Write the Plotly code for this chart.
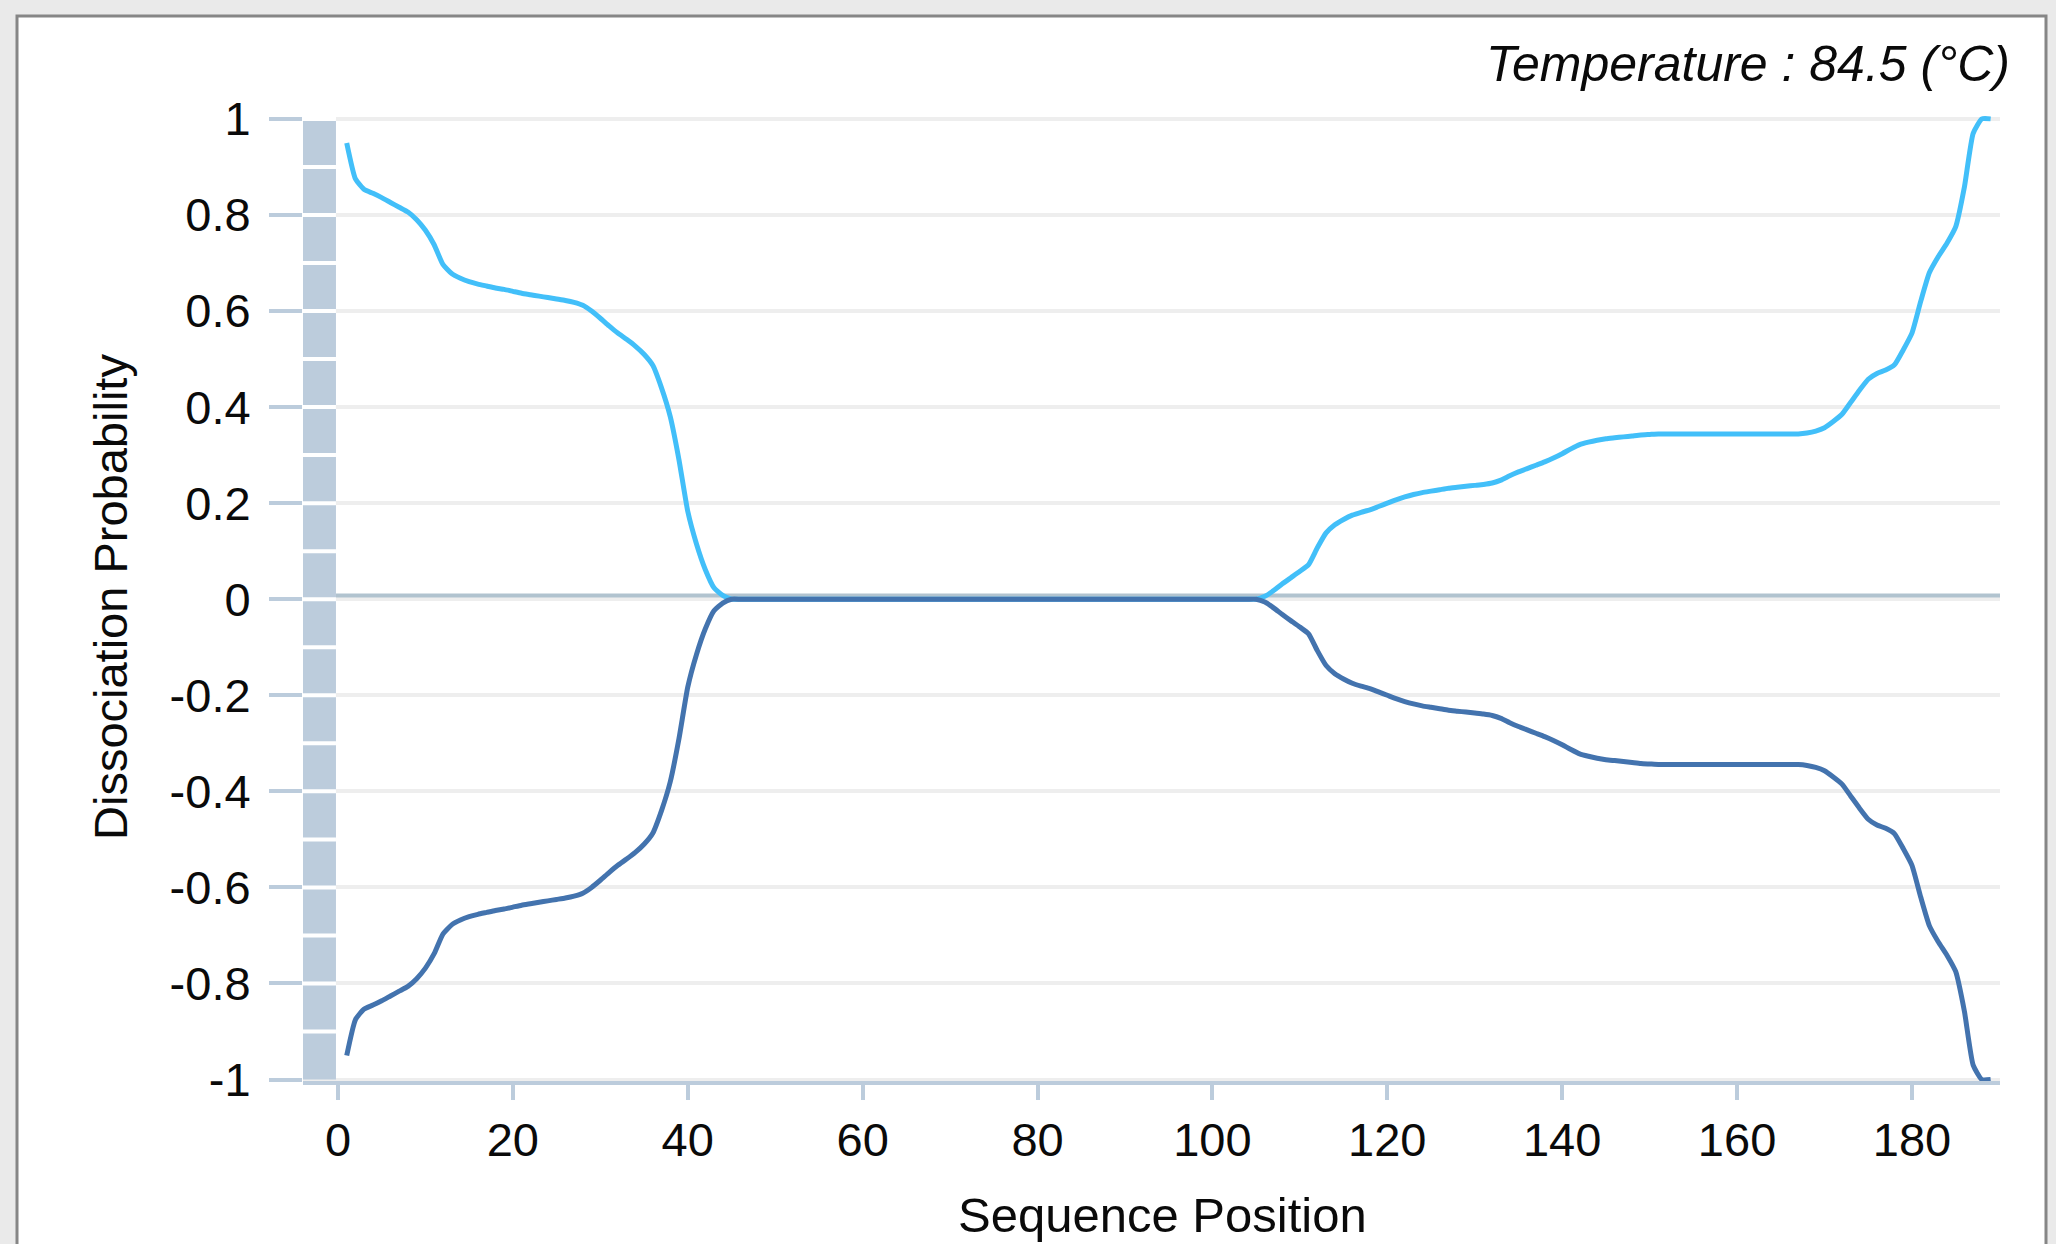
import plotly.graph_objects as go

# ---------------- data ----------------
positions = list(range(1, 190))

strand_top = [
    0.950, 0.875, 0.853, 0.845, 0.836, 0.826, 0.816, 0.806, 0.790, 0.768,
    0.738, 0.697, 0.678, 0.668, 0.661, 0.656, 0.652, 0.648, 0.645, 0.641,
    0.637, 0.634, 0.631, 0.628, 0.625, 0.622, 0.618, 0.612, 0.600, 0.585,
    0.569, 0.554, 0.541, 0.527, 0.510, 0.487, 0.440, 0.380, 0.290, 0.183,
    0.115, 0.062, 0.024, 0.008,
    0.0, 0.0, 0.0, 0.0, 0.0, 0.0, 0.0, 0.0, 0.0, 0.0,
    0.0, 0.0, 0.0, 0.0, 0.0, 0.0, 0.0, 0.0, 0.0, 0.0,
    0.0, 0.0, 0.0, 0.0, 0.0, 0.0, 0.0, 0.0, 0.0, 0.0,
    0.0, 0.0, 0.0, 0.0, 0.0, 0.0, 0.0, 0.0, 0.0, 0.0,
    0.0, 0.0, 0.0, 0.0, 0.0, 0.0, 0.0, 0.0, 0.0, 0.0,
    0.0, 0.0, 0.0, 0.0, 0.0, 0.0, 0.0, 0.0, 0.0, 0.0,
    0.0,
    0.006, 0.018, 0.032, 0.045, 0.058, 0.072, 0.107, 0.138, 0.155, 0.166,
    0.175, 0.181, 0.186, 0.193, 0.200, 0.207, 0.213, 0.218, 0.222, 0.225,
    0.228, 0.231, 0.233, 0.235, 0.237, 0.239, 0.242, 0.248, 0.257, 0.265,
    0.272, 0.279, 0.286, 0.294, 0.303, 0.313, 0.322, 0.327, 0.331, 0.334,
    0.336, 0.338, 0.340, 0.342, 0.343,
    0.344, 0.344, 0.344, 0.344, 0.344, 0.344, 0.344, 0.344, 0.344, 0.344,
    0.344, 0.344, 0.344, 0.344, 0.344, 0.344, 0.344,
    0.346, 0.350, 0.357, 0.370, 0.385, 0.410, 0.435, 0.458, 0.470, 0.477,
    0.488, 0.519, 0.554, 0.620, 0.680, 0.713, 0.741, 0.775, 0.858, 0.970,
    1.000, 1.000,
]

strand_bottom = [
    -0.950, -0.875, -0.853, -0.845, -0.836, -0.826, -0.816, -0.806, -0.790, -0.768,
    -0.738, -0.697, -0.678, -0.668, -0.661, -0.656, -0.652, -0.648, -0.645, -0.641,
    -0.637, -0.634, -0.631, -0.628, -0.625, -0.622, -0.618, -0.612, -0.600, -0.585,
    -0.569, -0.554, -0.541, -0.527, -0.510, -0.487, -0.440, -0.380, -0.290, -0.183,
    -0.115, -0.062, -0.024, -0.008,
    0.0, 0.0, 0.0, 0.0, 0.0, 0.0, 0.0, 0.0, 0.0, 0.0,
    0.0, 0.0, 0.0, 0.0, 0.0, 0.0, 0.0, 0.0, 0.0, 0.0,
    0.0, 0.0, 0.0, 0.0, 0.0, 0.0, 0.0, 0.0, 0.0, 0.0,
    0.0, 0.0, 0.0, 0.0, 0.0, 0.0, 0.0, 0.0, 0.0, 0.0,
    0.0, 0.0, 0.0, 0.0, 0.0, 0.0, 0.0, 0.0, 0.0, 0.0,
    0.0, 0.0, 0.0, 0.0, 0.0, 0.0, 0.0, 0.0, 0.0, 0.0,
    0.0,
    -0.006, -0.018, -0.032, -0.045, -0.058, -0.072, -0.107, -0.138, -0.155, -0.166,
    -0.175, -0.181, -0.186, -0.193, -0.200, -0.207, -0.213, -0.218, -0.222, -0.225,
    -0.228, -0.231, -0.233, -0.235, -0.237, -0.239, -0.242, -0.248, -0.257, -0.265,
    -0.272, -0.279, -0.286, -0.294, -0.303, -0.313, -0.322, -0.327, -0.331, -0.334,
    -0.336, -0.338, -0.340, -0.342, -0.343,
    -0.344, -0.344, -0.344, -0.344, -0.344, -0.344, -0.344, -0.344, -0.344, -0.344,
    -0.344, -0.344, -0.344, -0.344, -0.344, -0.344, -0.344,
    -0.346, -0.350, -0.357, -0.370, -0.385, -0.410, -0.435, -0.458, -0.470, -0.477,
    -0.488, -0.519, -0.554, -0.620, -0.680, -0.713, -0.741, -0.775, -0.858, -0.970,
    -1.000, -1.000,
]

x_tick_vals = [0, 20, 40, 60, 80, 100, 120, 140, 160, 180]
x_tick_text = ["0", "20", "40", "60", "80", "100", "120", "140", "160", "180"]
y_tick_vals = [-1, -0.8, -0.6, -0.4, -0.2, 0, 0.2, 0.4, 0.6, 0.8, 1]
y_tick_text = ["-1", "-0.8", "-0.6", "-0.4", "-0.2", "0", "0.2", "0.4", "0.6", "0.8", "1"]
band_levels = [-0.9, -0.8, -0.7, -0.6, -0.5, -0.4, -0.3, -0.2, -0.1, 0.0,
               0.1, 0.2, 0.3, 0.4, 0.5, 0.6, 0.7, 0.8, 0.9, 1.0]

title_text = "Temperature : 84.5 (°C)"
x_title = "Sequence Position"
y_title = "Dissociation Probability"

# ---------------- geometry / style ----------------
W, H = 2056, 1244
ML, MR, MT, MB = 303, 56, 116, 163
X_RANGE = [-4.0, 190.07]
Y_RANGE = [-1.003, 1.006]
FONT = "Arial, Liberation Sans, Helvetica, sans-serif"
AXIS_BLUE = "#BCCCDC"
LIGHT = "#42BFF9"
DARK = "#4373AE"
TEXT = "#0A0A0A"

pw = W - ML - MR
ph = H - MT - MB


def px_to_paper_x(px):
    return (px - ML) / pw


def px_to_paper_y(py):
    return (H - MB - py) / ph


fig = go.Figure()

fig.add_trace(go.Scatter(
    x=positions, y=strand_top, mode="lines",
    line=dict(color=LIGHT, width=5, shape="spline", smoothing=0.5),
    showlegend=False, hoverinfo="x+y",
))
fig.add_trace(go.Scatter(
    x=positions, y=strand_bottom, mode="lines",
    line=dict(color=DARK, width=5, shape="spline", smoothing=0.5),
    showlegend=False, hoverinfo="x+y",
))

band_x0, band_x1 = X_RANGE[0], -0.23
shapes = []
# outer frame
shapes.append(dict(type="rect", xref="paper", yref="paper",
                   x0=px_to_paper_x(17), x1=px_to_paper_x(2046),
                   y0=px_to_paper_y(1270), y1=px_to_paper_y(16),
                   fillcolor="white", line=dict(color="#868686", width=3),
                   layer="below"))
# band along the value axis
shapes.append(dict(type="rect", xref="x", yref="y",
                   x0=band_x0, x1=band_x1, y0=-1, y1=1,
                   fillcolor=AXIS_BLUE, line=dict(width=0), layer="between"))
for lv in band_levels:
    shapes.append(dict(type="line", xref="x", yref="y",
                       x0=band_x0, x1=band_x1, y0=lv, y1=lv,
                       line=dict(color="white", width=4), layer="between"))
# zero reference line
shapes.append(dict(type="line", xref="x", yref="y",
                   x0=band_x1, x1=X_RANGE[1], y0=0.0075, y1=0.0075,
                   line=dict(color="#B1C3CF", width=4), layer="between"))

annotations = [
    dict(text="<i>" + title_text + "</i>", xref="paper", yref="paper",
         x=px_to_paper_x(2012), y=px_to_paper_y(64), xanchor="right", yanchor="middle",
         showarrow=False, font=dict(family=FONT, size=50, color=TEXT)),
    dict(text=x_title, xref="paper", yref="paper",
         x=px_to_paper_x(1162), y=px_to_paper_y(1215), xanchor="center", yanchor="middle",
         showarrow=False, font=dict(family=FONT, size=49, color=TEXT)),
    dict(text=y_title, xref="paper", yref="paper", textangle=-90,
         x=px_to_paper_x(110), y=px_to_paper_y(597), xanchor="center", yanchor="middle",
         showarrow=False, font=dict(family=FONT, size=47, color=TEXT)),
]

fig.update_layout(
    width=W, height=H,
    margin=dict(l=ML, r=MR, t=MT, b=MB, pad=0),
    paper_bgcolor="#EAEAEA",
    plot_bgcolor="rgba(0,0,0,0)",
    shapes=shapes,
    annotations=annotations,
    showlegend=False,
    font=dict(family=FONT, size=47, color=TEXT),
    xaxis=dict(
        range=X_RANGE, showgrid=False, zeroline=False,
        showline=True, linecolor=AXIS_BLUE, linewidth=4,
        ticks="outside", ticklen=15, tickwidth=4, tickcolor=AXIS_BLUE,
        tickvals=x_tick_vals, ticktext=x_tick_text,
        tickfont=dict(family=FONT, size=47, color=TEXT),
    ),
    yaxis=dict(
        range=Y_RANGE, showgrid=True, gridcolor="#EEEEEE", gridwidth=4,
        zeroline=False, showline=False,
        ticks="outside", ticklen=33, tickwidth=4, tickcolor=AXIS_BLUE,
        ticklabelstandoff=9,
        tickvals=y_tick_vals, ticktext=y_tick_text,
        tickfont=dict(family=FONT, size=47, color=TEXT),
    ),
)

fig.write_html(
    "out.html",
    config={"displayModeBar": False},
    post_script="document.body.style.margin='0';document.body.style.background='#EAEAEA';document.body.style.overflow='hidden';",
)
